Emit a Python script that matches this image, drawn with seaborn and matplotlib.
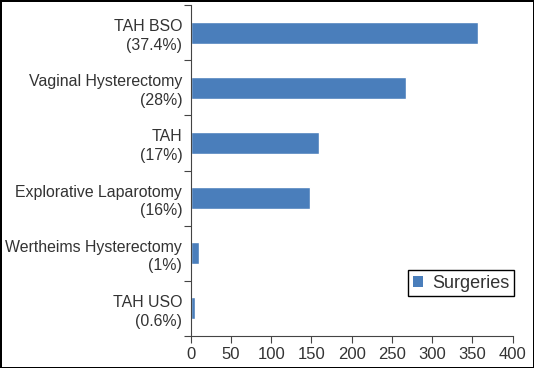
import numpy as np
import pandas as pd
import seaborn as sns
import matplotlib.pyplot as plt
from matplotlib.patches import Patch

# data
procedures = ["TAH BSO\n(37.4%)", "Vaginal Hysterectomy\n(28%)", "TAH\n(17%)",
              "Explorative Laparotomy\n(16%)", "Wertheims Hysterectomy\n(1%)", "TAH USO\n(0.6%)"]
surgeries = [357, 267, 159, 148, 11, 6]
xticks = [0, 50, 100, 150, 200, 250, 300, 350, 400]

bar_color = "#4A7EBB"
text_color = "#333333"

sns.set_style("white")
plt.rcParams['font.family'] = ['Liberation Sans', 'DejaVu Sans']

df = pd.DataFrame({"procedure": procedures, "count": surgeries})

fig = plt.figure(figsize=(5.34, 3.68), dpi=100, linewidth=2, edgecolor="black")
ax = fig.add_axes([0.357, 0.087, 0.603, 0.899])

sns.barplot(data=df, x="count", y="procedure", color=bar_color, width=0.4,
            saturation=1, ax=ax)

ax.set_xlim(0, 400)
ax.set_ylim(5.5, -0.5)
ax.set_xticks(xticks)
ax.set_xlabel("")
ax.set_ylabel("")

# y ticks sit on the category boundaries
ax.set_yticks(np.arange(-0.5, 6, 1), minor=True)
ax.tick_params(axis="y", which="major", length=0, pad=6, labelsize=11.4, labelcolor=text_color)
ax.tick_params(axis="y", which="minor", length=5, width=0.8, color="#444444", left=True)
ax.tick_params(axis="x", which="major", length=5, width=0.8, color="#444444", bottom=True,
               labelsize=12, labelcolor=text_color, pad=3)

sns.despine(ax=ax)
for s in ["left", "bottom"]:
    ax.spines[s].set_color("#444444")
    ax.spines[s].set_linewidth(0.8)

handle = Patch(facecolor=bar_color, edgecolor="none", label="Surgeries")
leg = ax.legend(handles=[handle], loc="lower right", bbox_to_anchor=(1.005, 0.12),
                borderaxespad=0, fancybox=False, framealpha=1, edgecolor="black",
                fontsize=13, handlelength=0.6, handleheight=0.6, handletextpad=0.5,
                borderpad=0.25)
leg.get_frame().set_linewidth(1)
for t in leg.get_texts():
    t.set_color(text_color)

# right-align the two-line labels
fig.canvas.draw()
for lbl in ax.get_yticklabels():
    lbl.set_multialignment("right")
    lbl.set_linespacing(1.3)

fig.savefig("out.png", dpi=100)
